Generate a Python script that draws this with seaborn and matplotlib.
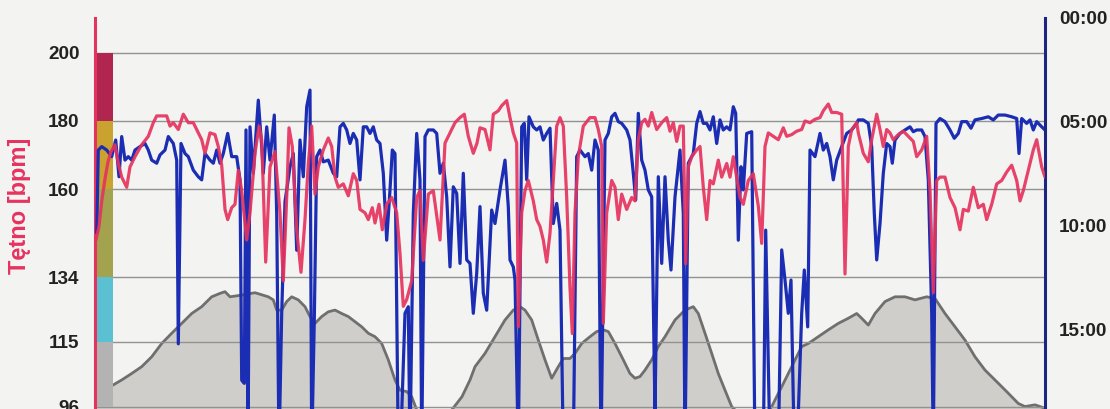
import matplotlib
matplotlib.use("Agg")
import matplotlib.pyplot as plt
import numpy as np
import pandas as pd
import seaborn as sns

# ---- heart rate (minutes, bpm) ----
hr_time = [0.1, 0.4, 0.7, 1.0, 1.3, 1.6, 2.0, 2.33, 2.67, 3.17,
           3.5, 4.0, 4.67, 5.33, 5.83, 6.17, 6.67, 7.17, 7.5, 7.83,
           8.33, 8.83, 9.33, 9.83, 10.17, 10.67, 11.0, 11.5, 12.0, 12.33,
           12.67, 13.0, 13.27, 13.67, 14.0, 14.33, 14.67, 15.17, 15.5, 16.0,
           16.4, 16.67, 17.07, 17.5, 18.0, 18.5, 18.83, 19.17, 19.4, 19.73,
           20.17, 20.6, 21.0, 21.33, 21.67, 22.0, 22.33, 22.83, 23.33, 23.67,
           24.0, 24.33, 24.83, 25.33, 25.83, 26.17, 26.5, 27.0, 27.33, 27.73,
           28.0, 28.4, 28.73, 29.17, 29.67, 30.17, 30.5, 30.83, 31.17, 31.67,
           32.17, 32.5, 32.83, 33.33, 33.83, 34.5, 35.0, 35.5, 36.0, 36.5,
           36.93, 37.33, 37.83, 38.2, 38.5, 39.0, 39.5, 39.83, 40.33, 40.67,
           41.17, 41.5, 41.83, 42.17, 42.33, 42.67, 43.0, 43.33, 43.83, 44.17,
           44.5, 44.83, 45.17, 45.5, 45.83, 46.17, 46.5, 46.83, 47.17, 47.5,
           47.73, 48.0, 48.33, 48.83, 49.5, 50.0, 50.33, 50.67, 50.83, 51.17,
           51.67, 52.0, 52.33, 52.67, 53.17, 53.67, 54.0, 54.33, 54.67, 55.0,
           55.33, 55.67, 56.17, 56.67, 57.17, 57.5, 57.83, 58.17, 58.5, 58.83,
           59.07, 59.33, 59.67, 60.17, 60.5, 60.83, 61.17, 61.5, 61.83, 62.33,
           62.67, 63.17, 63.5, 63.83, 64.17, 64.5, 64.83, 65.33, 65.83, 66.33,
           66.67, 67.0, 67.33, 67.83, 68.33, 68.83, 69.17, 69.67, 70.17, 70.67,
           71.0, 71.5, 72.0, 72.5, 72.83, 73.33, 73.67, 74.17, 74.67, 75.0,
           75.33, 75.67, 76.17, 76.33, 76.83, 77.33, 77.67, 78.17, 78.5, 78.83,
           79.17, 79.5, 79.83, 80.33, 80.83, 81.33, 81.83, 82.17, 82.67, 83.17,
           83.5, 83.83, 84.17, 84.5, 85.0, 85.5, 86.0, 86.5, 86.83, 87.33,
           87.83, 88.33, 88.83, 89.17, 89.67, 90.17, 90.67, 91.17, 91.67, 92.17,
           92.5, 92.83, 93.33, 93.83, 94.17, 94.67, 95.0]
hr_bpm = [145, 149, 157, 163, 168, 171, 173, 167.5, 163.5, 160.5,
          166.5, 169.5, 173, 175.5, 179.5, 181.5, 181.5, 181.5, 178.5, 179.5,
          177.5, 182, 179.5, 179.5, 177.5, 174.5, 170.5, 176.5, 176, 172.5,
          167, 154, 151, 154.5, 155.5, 165.5, 159.5, 145, 153, 170.5,
          178.5, 174.5, 138.5, 166.5, 171, 153, 133, 157.5, 178, 172.5,
          148, 135.5, 151, 167.5, 178.5, 158.5, 166.5, 171.5, 175, 172.5,
          163.5, 160.5, 161.5, 158, 164.5, 162.5, 154, 153, 151, 154.5,
          150, 155.5, 148, 155.5, 157.5, 153, 141, 125.5, 127.5, 133,
          157.5, 159.5, 139, 158.5, 159.5, 145, 173.5, 176.5, 179.5, 181,
          182, 175.5, 170.5, 173.5, 178, 177.5, 171.5, 182, 183, 184.5,
          186, 181, 176.5, 173.5, 119.5, 153, 159.5, 162.5, 156.5, 151,
          149, 145, 138.5, 147, 162.5, 178.5, 181, 178.5, 157.5, 131,
          117.5, 153, 169.5, 178.5, 181, 181, 177.5, 172.5, 120.5, 153,
          162.5, 160.5, 151, 158.5, 154, 157.5, 156.5, 174.5, 179.5, 180.5,
          178.5, 182.5, 177.5, 179.5, 181, 177, 179.5, 174, 178.5, 178.5,
          138, 166.5, 169.5, 171.5, 172.5, 160.5, 151, 162.5, 161.5, 168.5,
          163.5, 167.5, 163.5, 169.5, 163.5, 157.5, 155.5, 162.5, 164.5, 155,
          144, 172.5, 176.5, 175.5, 174.5, 178, 175.5, 176, 177, 177.5,
          180, 179.5, 180.5, 181, 183, 185, 182.5, 182.5, 182, 135,
          172.5, 177.5, 179.5, 176.5, 170.5, 168, 174.5, 182, 177.5, 172.5,
          177.5, 176.5, 174.5, 176, 177, 175.5, 174, 169.5, 171.5, 175.5,
          159.5, 129.5, 162.5, 163.5, 163.5, 157.5, 154.5, 148, 154, 153.5,
          160.5, 154.5, 155.5, 151, 155.5, 161.5, 162.5, 165, 167, 162.5,
          156.5, 159.5, 165.5, 171.5, 174.5, 166.5, 163.5]

# ---- pace (minutes, seconds per km) ----
pace_time = [0.17, 0.33, 0.67, 1.17, 1.67, 2.07, 2.4, 2.67, 3.0, 3.33,
             3.67, 4.0, 4.5, 5.0, 5.33, 5.67, 6.17, 6.5, 7.0, 7.33,
             7.83, 8.17, 8.33, 8.6, 9.0, 9.33, 9.83, 10.33, 10.67, 11.0,
             11.5, 11.83, 12.17, 12.5, 12.83, 13.27, 13.67, 14.17, 14.5, 14.67,
             14.93, 15.1, 15.3, 15.5, 15.83, 16.33, 16.67, 16.83, 17.17, 17.5,
             17.93, 18.17, 18.4, 18.67, 19.0, 19.5, 19.83, 20.17, 20.5, 20.83,
             21.17, 21.5, 21.67, 21.93, 22.17, 22.5, 22.83, 23.33, 23.83, 24.17,
             24.5, 24.83, 25.17, 25.5, 25.83, 26.17, 26.5, 26.83, 27.17, 27.5,
             27.83, 28.17, 28.5, 28.83, 29.17, 29.5, 29.73, 30.0, 30.33, 30.67,
             31.0, 31.33, 31.5, 31.83, 32.17, 32.5, 32.67, 33.0, 33.33, 33.83,
             34.17, 34.5, 34.83, 35.17, 35.5, 35.83, 36.17, 36.5, 36.83, 37.17,
             37.5, 37.83, 38.17, 38.5, 38.83, 39.17, 39.67, 40.0, 40.5, 41.0,
             41.33, 41.5, 41.83, 42.0, 42.33, 42.67, 42.93, 43.17, 43.4, 43.83,
             44.17, 44.5, 44.83, 45.17, 45.5, 45.83, 46.17, 46.5, 46.83, 47.33,
             47.83, 48.17, 48.5, 49.0, 49.33, 49.67, 50.0, 50.33, 50.6, 51.0,
             51.33, 51.67, 52.0, 52.33, 52.67, 53.17, 53.5, 53.83, 54.07, 54.33,
             54.67, 55.0, 55.33, 55.67, 56.0, 56.33, 56.67, 57.0, 57.33, 57.6,
             58.0, 58.5, 58.83, 59.0, 59.33, 59.83, 60.17, 60.5, 60.83, 61.17,
             61.5, 61.83, 62.17, 62.5, 62.83, 63.17, 63.5, 63.83, 64.07, 64.33,
             64.6, 64.83, 65.17, 65.67, 66.0, 66.5, 66.83, 67.07, 67.5, 68.0,
             68.33, 68.67, 69.0, 69.33, 69.6, 69.93, 70.33, 70.67, 70.93, 71.27,
             71.5, 72.0, 72.5, 72.83, 73.17, 73.5, 73.83, 74.17, 74.67, 75.17,
             75.67, 76.17, 76.33, 76.83, 77.33, 77.67, 77.93, 78.17, 78.5, 78.83,
             79.17, 79.5, 79.73, 80.0, 80.5, 81.0, 81.5, 81.83, 82.17, 82.67,
             83.0, 83.33, 83.67, 83.83, 84.1, 84.5, 85.0, 85.5, 85.93, 86.33,
             86.67, 87.17, 87.6, 88.0, 88.67, 89.33, 89.83, 90.33, 91.0, 91.67,
             92.17, 92.4, 92.67, 93.17, 93.5, 93.83, 94.17, 94.67, 95.0]
pace_sec = [620, 381, 371, 381, 400, 352, 458, 342, 410, 400,
            410, 381, 371, 362, 381, 410, 419, 395, 381, 342,
            362, 410, 940, 362, 391, 400, 439, 458, 467, 391,
            410, 419, 381, 419, 391, 333, 400, 400, 467, 1045,
            1054, 323, 1250, 314, 448, 237, 371, 448, 314, 410,
            280, 564, 1250, 852, 530, 430, 391, 670, 352, 458,
            256, 208, 1250, 871, 400, 381, 415, 410, 448, 458,
            314, 304, 323, 362, 333, 352, 467, 314, 314, 333,
            314, 352, 362, 448, 641, 496, 381, 391, 1250, 1141,
            852, 833, 1250, 564, 333, 467, 1250, 342, 323, 323,
            333, 448, 419, 516, 718, 487, 506, 708, 448, 698,
            708, 852, 737, 544, 794, 843, 554, 593, 496, 410,
            544, 698, 718, 756, 1250, 314, 304, 467, 285, 314,
            323, 314, 352, 333, 318, 593, 535, 612, 1250, 1141,
            1250, 400, 381, 400, 391, 439, 352, 381, 1250, 352,
            333, 285, 275, 299, 304, 323, 352, 448, 525, 275,
            410, 439, 496, 516, 1141, 458, 708, 458, 641, 727,
            516, 381, 564, 1250, 419, 391, 304, 270, 304, 304,
            323, 285, 362, 294, 323, 314, 323, 256, 275, 641,
            429, 496, 333, 328, 1250, 1141, 1250, 612, 1250, 1141,
            1250, 669, 756, 852, 756, 1250, 1141, 852, 727, 891,
            381, 400, 333, 381, 362, 400, 467, 410, 371, 333,
            323, 304, 294, 294, 304, 371, 564, 698, 593, 448,
            362, 371, 419, 352, 333, 323, 314, 328, 323, 323,
            342, 467, 852, 1250, 304, 290, 299, 323, 347, 333,
            299, 299, 318, 294, 290, 285, 294, 280, 280, 285,
            290, 391, 290, 304, 294, 323, 299, 314, 323]

# ---- elevation profile (minutes, metres above lowest point) ----
elev_time = [0.1, 0.67, 1.5, 2.67, 3.67, 4.67, 5.67, 6.67, 7.67, 8.67,
             9.67, 10.67, 11.67, 12.5, 13.0, 13.5, 14.67, 16.0, 17.33, 17.83,
             18.17, 18.67, 19.17, 19.67, 20.33, 21.0, 21.5, 22.0, 22.67, 23.33,
             24.0, 24.67, 25.33, 26.0, 26.67, 27.33, 28.0, 28.67, 29.33, 30.0,
             30.5, 31.17, 31.67, 32.17, 33.5, 35.0, 35.67, 36.7, 37.5, 38.0,
             39.0, 40.0, 41.0, 41.83, 42.5, 43.0, 43.67, 44.33, 45.0, 45.67,
             46.33, 46.83, 47.5, 48.0, 48.67, 49.5, 50.17, 50.83, 51.33, 52.0,
             52.83, 53.5, 54.0, 54.5, 55.0, 55.67, 56.33, 57.0, 58.0, 59.0,
             59.83, 60.33, 61.0, 61.67, 62.33, 63.0, 63.67, 65.0, 66.5, 67.67,
             68.67, 69.67, 70.67, 71.33, 72.33, 73.33, 74.33, 75.33, 76.17, 76.67,
             77.33, 78.0, 79.0, 80.0, 81.0, 82.0, 83.17, 84.0, 85.0, 86.0,
             87.0, 88.0, 89.0, 90.0, 91.33, 92.33, 93.0, 94.0, 95.0]
elev_m = [5.9, 7.9, 11.8, 13.8, 15.7, 17.7, 20.6, 24.5, 27.5, 30.4,
          33.3, 35.3, 38.2, 39.2, 39.7, 38.2, 38.7, 39.4, 38.2, 37.3,
          34.3, 34.3, 36.8, 38.2, 37.3, 35.3, 32.4, 30.4, 32.4, 33.8,
          34.3, 33.3, 32.4, 30.9, 29.4, 27.5, 26.5, 24.5, 19.7, 13.8,
          10.8, 10.4, 8.9, 5.0, 2.0, 3.0, 5.0, 8.9, 13.8, 17.7,
          21.6, 26.5, 31.4, 34.3, 35.3, 34.3, 31.4, 25.5, 19.7, 14.3,
          17.7, 20.1, 20.1, 21.6, 24.5, 26.5, 28.0, 28.5, 28.0, 24.5,
          19.7, 15.7, 14.3, 14.8, 16.7, 19.7, 23.6, 26.5, 31.4, 34.3,
          35.3, 33.3, 27.5, 21.6, 15.7, 10.8, 6.0, 2.0, 1.0, 6.0,
          11.8, 17.7, 23.6, 24.5, 26.5, 28.5, 30.4, 31.9, 33.3, 31.9,
          29.9, 33.3, 36.8, 38.2, 38.2, 37.3, 38.2, 37.7, 33.3, 29.4,
          25.5, 20.6, 16.7, 13.8, 9.9, 6.9, 6.0, 6.5, 5.5]

# ---- heart-rate zones (lower, upper bpm) and axis ticks ----
zone_bounds = [(96, 115), (115, 134), (134, 160), (160, 180), (180, 200)]
zone_colors = ["#b3b3b3", "#5cc0d3", "#a3a34f", "#c9a22f", "#b1264f"]
hr_ticks = [96, 115, 134, 160, 180, 200]
pace_ticks = [0, 300, 600, 900]
pace_labels = ["00:00", "05:00", "10:00", "15:00"]

assert len(hr_time) == len(hr_bpm)
assert len(pace_time) == len(pace_sec)
assert len(elev_time) == len(elev_m)

hr_df = pd.DataFrame({"czas": hr_time, "tetno": hr_bpm})
pace_df = pd.DataFrame({"czas": pace_time, "tempo": pace_sec})
elev_df = pd.DataFrame({"czas": elev_time, "wysokosc": elev_m})

BG = "#f3f3f1"
RED = "#e5335f"
BLUE = "#1b2db3"
NAVY = "#1c2580"
TXT = "#222222"

sns.set_theme(style="white")
plt.rcParams["font.family"] = ["Liberation Sans", "DejaVu Sans"]

W_PX, H_PX = 1110, 409
fig = plt.figure(figsize=(W_PX / 100, H_PX / 100), dpi=100)
fig.patch.set_facecolor(BG)

left, right = 95 / W_PX, 1045 / W_PX
top_px, bot_px = 18, 427
rect = [left, (H_PX - bot_px) / H_PX, right - left, (bot_px - top_px) / H_PX]

X_LIM = (0, 95)
HR_LIM = (200 - (bot_px - 53) / 3.4, 200 + (53 - top_px) / 3.4)
PACE_LIM = ((bot_px - top_px) * 2.885, 0)
ELEV_LIM = (0, 120)


def bare(ax):
    ax.set_facecolor("none")
    for s in ax.spines.values():
        s.set_visible(False)
    ax.set_xticks([])
    ax.set_yticks([])
    ax.set_xlabel("")
    ax.set_ylabel("")
    ax.set_xlim(*X_LIM)


# elevation profile (background layer)
ax_el = fig.add_axes(rect)
ax_el.fill_between(elev_df["czas"], elev_df["wysokosc"], 0, color="#d0cecb", lw=0)
sns.lineplot(data=elev_df, x="czas", y="wysokosc", ax=ax_el, color="#6f6f6f",
             lw=2.0, estimator=None, sort=False)
bare(ax_el)
ax_el.set_facecolor(BG)
ax_el.set_ylim(*ELEV_LIM)

# heart-rate scale: grid, zones, left axis
ax_g = fig.add_axes(rect)
bare(ax_g)
ax_g.set_ylim(*HR_LIM)
for y in hr_ticks:
    ax_g.axhline(y, color="#929292", lw=1.0, zorder=1)
bar_frac = 18 / 950
for (lo, hi), c in zip(zone_bounds, zone_colors):
    ax_g.axhspan(lo, hi, xmin=0, xmax=bar_frac, color=c, lw=0, zorder=2)
ax_g.spines["left"].set_visible(True)
ax_g.spines["left"].set_color(RED)
ax_g.spines["left"].set_linewidth(2.2)
ax_g.set_yticks(hr_ticks)
ax_g.set_yticklabels([str(t) for t in hr_ticks])
ax_g.tick_params(axis="y", length=0, pad=11, labelsize=13.6, labelcolor=TXT)
for lab in ax_g.get_yticklabels():
    lab.set_fontweight("bold")

# pace line with right axis
ax_p = fig.add_axes(rect)
sns.lineplot(data=pace_df, x="czas", y="tempo", ax=ax_p, color=BLUE,
             lw=2.3, estimator=None, sort=False)
bare(ax_p)
ax_p.set_ylim(*PACE_LIM)
ax_p.spines["right"].set_visible(True)
ax_p.spines["right"].set_color(NAVY)
ax_p.spines["right"].set_linewidth(2.2)
ax_p.yaxis.tick_right()
ax_p.set_yticks(pace_ticks)
ax_p.set_yticklabels(pace_labels)
ax_p.tick_params(axis="y", length=0, pad=10, labelsize=13.6, labelcolor=TXT)
for lab in ax_p.get_yticklabels():
    lab.set_fontweight("bold")

# heart-rate line on top
ax_h = fig.add_axes(rect)
sns.lineplot(data=hr_df, x="czas", y="tetno", ax=ax_h, color=RED,
             lw=2.3, alpha=0.92, estimator=None, sort=False)
bare(ax_h)
ax_h.set_ylim(*HR_LIM)

fig.text(20 / W_PX, 1 - 206 / H_PX, "Tętno [bpm]", rotation=90,
         ha="center", va="center", color=RED, fontsize=17, fontweight="bold")

fig.savefig("out.png", dpi=100, facecolor=BG)
